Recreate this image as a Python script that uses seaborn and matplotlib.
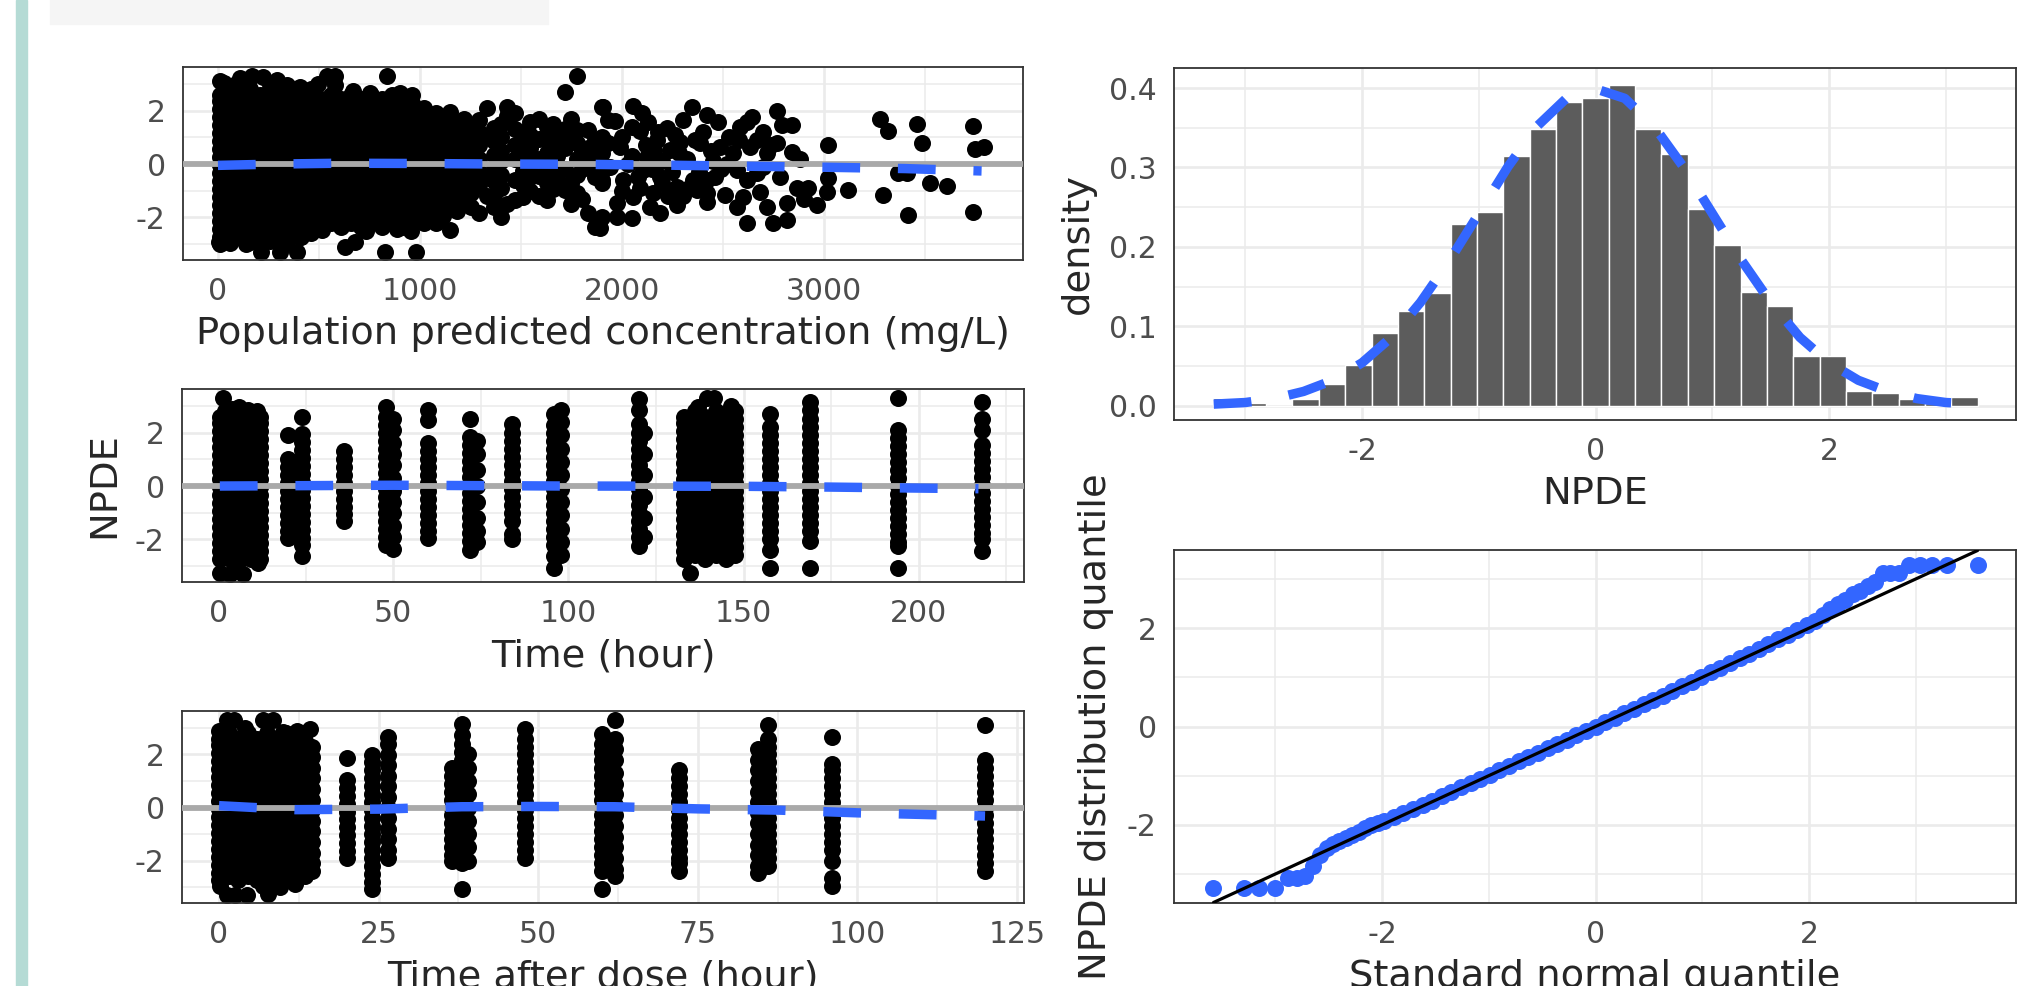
import matplotlib
matplotlib.use("Agg")
import matplotlib.pyplot as plt
from matplotlib.patches import Rectangle
from matplotlib.ticker import FormatStrFormatter
import seaborn as sns
import pandas as pd

# ---------------- data ----------------
# shared NPDE bands used for the solid, over-plotted blocks
band_a = [-2.75, -2.45, -2.15, -1.85, -1.55, -1.25, -0.95, -0.65, -0.35, -0.05,
          0.25, 0.55, 0.85, 1.15, 1.45, 1.75, 2.05, 2.35, 2.6]
band_b = [-2.6, -2.3, -2.0, -1.7, -1.4, -1.1, -0.8, -0.5, -0.2, 0.1,
          0.4, 0.7, 1.0, 1.3, 1.6, 1.9, 2.2, 2.5, 2.8]
band_c = [-2.35, -2.05, -1.75, -1.45, -1.15, -0.85, -0.55, -0.25, 0.05, 0.35,
          0.65, 0.95, 1.25, 1.55, 1.85, 2.15, 2.45]
band_d = [-2.2, -1.9, -1.6, -1.3, -1.0, -0.7, -0.4, -0.1, 0.2, 0.5,
          0.8, 1.1, 1.4, 1.7, 2.0, 2.3, 2.6]

# panel 1: population prediction (mg/L)
pred_dense_x = [10, 60, 110, 160, 210, 260, 310, 360, 410, 460,
                510, 560, 610, 660, 710, 760, 810, 860, 910, 960]
pred_dense_band = ["a", "b", "a", "b", "a", "b", "a", "b", "a", "b",
                   "c", "d", "c", "d", "c", "d", "c", "d", "c", "d"]
pred_col_x = [1020, 1050, 1080, 1115, 1148, 1185, 1220, 1255, 1290, 1330, 1365, 1400,
              1430, 1470, 1510, 1545, 1590, 1627, 1660, 1680, 1718, 1750, 1776, 1800,
              1830, 1866, 1900, 1933]
pred_col_npde = [
    [2.1, 1.7, 1.3, 0.9, 0.5, 0.1, -0.3, -0.7, -1.1, -1.5, -1.9, -2.2],
    [1.8, 1.4, 1.0, 0.6, 0.2, -0.2, -0.6, -1.0, -1.4, -1.85],
    [1.9, 1.5, 1.1, 0.7, 0.3, -0.1, -0.5, -0.9, -1.3, -1.7, -2.22],
    [1.65, 1.25, 0.85, 0.45, 0.05, -0.35, -0.75, -1.15, -1.55, -1.95],
    [1.96, 1.4, 1.0, 0.6, 0.2, -0.2, -0.6, -1.2, -1.6, -2.48],
    [1.5, 1.1, 0.7, 0.3, -0.1, -0.5, -0.9, -1.3, -1.75],
    [1.7, 1.3, 0.8, 0.4, 0.0, -0.4, -0.9, -1.4],
    [1.45, 1.0, 0.55, 0.15, -0.25, -0.65, -1.1, -1.6],
    [1.65, 1.2, 0.7, 0.2, -0.3, -0.8, -1.85],
    [2.09, 1.0, -0.5, -1.2],
    [1.35, 0.85, 0.35, -0.15, -0.65, -1.15, -1.6],
    [1.5, 1.0, 0.5, 0.1, -0.4, -0.9, -1.98],
    [2.15, 1.8, -1.5],
    [1.9, 1.3, 0.7, 0.2, -0.6, -1.35],
    [1.2, 0.75, 0.3, -0.25, -0.8, -1.25],
    [1.59, 1.1, 0.6, 0.0, -0.5, -1.0],
    [1.7, 0.95, 0.2, -0.45, -1.2],
    [1.4, 0.9, 0.4, -0.2, -0.7, -1.35],
    [1.5, 0.6, -0.15, -0.95],
    [1.0, 0.3, -0.6],
    [2.71, 1.3, 0.6, -0.2, -0.98],
    [1.7, 1.0, -0.7, -1.5],
    [3.29, 1.28, 0.8, 0.2, -0.4, -1.1],
    [0.5, -0.2, -1.3],
    [1.28, 0.6, 0.0, -1.85],
    [0.9, 0.3, -0.5, -2.35],
    [2.15, 1.0, 0.4, -0.2, -0.7, -1.98],
    [1.65, 0.8, -0.1],
]
pred_pt_x = [10, 30, 90, 108, 150, 167, 225, 260, 290, 340, 405, 496, 540, 580, 580,
             670, 752, 835, 900,
             5, 10, 60, 140, 157, 215, 257, 306, 340, 389, 405, 515, 629, 676, 735,
             829, 884, 957, 980,
             1908, 2056, 2345, 2766, 1965, 2130, 2221, 2304, 2419, 2477, 2642, 2790,
             2840, 2048, 2089, 2584, 2617, 2766, 2840, 1916, 1990, 2171, 2287, 2386,
             2485, 2666, 2716, 2122, 2238, 2551, 2634, 1941, 2106, 2188, 2460, 2568,
             2667, 2782, 1899, 2007, 2089, 2155, 2271, 2370, 2419, 2510, 2601, 2683,
             2716, 2815, 2865, 2922, 2963, 1974, 2056, 2139, 2271, 2419, 2568, 2617,
             2749, 2815, 1974, 2048, 2188, 1891, 1891,
             2150, 2200, 2250, 2320, 2350, 2200, 2300, 2120, 2260, 2400, 2380, 2050,
             2000, 2000, 2520, 2700, 2450,
             2030, 2080, 2100, 2160, 2180, 2230, 2280, 2330, 2360, 2420, 2440, 2490,
             2530, 2580, 2620, 2700, 2740, 2880, 2900,
             3021, 3021, 3013, 3120, 3277, 3318, 3368, 3409, 3293, 3417, 3462, 3487,
             3525, 3607, 3739, 3747, 3790, 3739]
pred_pt_npde = [3.1, 3.05, 3.0, 3.21, 3.12, 3.29, 3.27, 3.02, 3.15, 2.95, 2.9, 3.02, 3.29,
                3.29, 2.96, 2.75, 2.65, 3.29, 2.65,
                -2.91, -3.0, -2.95, -3.0, -2.91, -3.29, -2.9, -3.29, -2.95, -3.29, -2.75,
                -2.48, -3.1, -2.91, -2.5, -3.29, -2.45, -2.5, -3.29,
                2.15, 2.17, 2.15, 2.0, 1.62, 1.59, 1.34, 1.65, 1.84, 1.59, 1.75, 1.46,
                1.46, 1.4, 1.25, 1.4, 1.59, 0.78, 0.46, 0.84, 0.65, 0.9, 0.84, 0.78,
                0.65, 0.9, 0.4, 0.28, 0.53, 0.4, 0.65, -0.1, -0.23, -0.48, -0.48, -0.23,
                -0.35, -0.48, -0.6, -0.6, -0.91, -1.1, -0.85, -0.98, -1.1, -1.16, -1.22,
                -1.04, -1.6, -1.48, -0.91, -0.91, -1.54, -1.48, -1.22, -1.6, -1.54,
                -1.41, -1.6, -2.22, -2.22, -2.1, -1.98, -2.04, -1.85, -2.1, -2.41,
                -0.2, 0.1, -0.3, 0.2, -0.6, -0.7, -1.2, 0.7, 1.1, 1.2, -0.3, 0.3,
                1.0, -1.0, 0.0, 1.2, 0.1,
                0.0, -0.5, 1.9, 0.5, 1.2, -1.2, 0.4, -0.9, 0.9, -0.6, 0.5, -0.2,
                1.0, 0.9, -0.6, -0.1, 0.7, 0.2, -1.3,
                0.71, -0.54, -1.04, -0.98, 1.68, 1.25, -0.33, -0.35, -1.16, -1.91, 1.49,
                0.78, -0.73, -0.81, 1.43, 0.55, 0.63, -1.79]
pred_smooth_x = [0, 300, 600, 1000, 1400, 1800, 2200, 2600, 3000, 3400, 3780]
pred_smooth_npde = [-0.05, 0.0, 0.03, 0.02, 0.0, -0.01, -0.04, -0.08, -0.12, -0.17, -0.26]

# panel 2: time (hour)
time_dense_x = [0.5, 2, 3.5, 5, 6.5, 8, 9.5, 11, 12, 133, 136, 139, 142, 145, 147.5]
time_dense_band = ["a", "b", "a", "b", "a", "b", "a", "b", "a", "a", "b", "a", "b", "a", "b"]
time_col_x = [20, 24, 36, 48, 50, 60, 72, 74, 84, 96, 98, 120, 121.5, 157.5, 169, 194, 218]
time_col_npde = [
    [1.9, 1.0, 0.7, 0.4, 0.1, -0.2, -0.5, -0.8, -1.1, -1.4, -1.7, -1.95],
    [2.59, 1.95, 1.65, 1.35, 1.05, 0.75, 0.45, 0.15, -0.15, -0.45, -0.75, -1.05,
     -1.35, -1.65, -1.95, -2.2, -2.64],
    [1.3, 1.0, 0.7, 0.4, 0.1, -0.2, -0.5, -0.8, -1.05, -1.3],
    [2.95, 2.6, 2.3, 2.0, 1.7, 1.4, 1.1, 0.8, 0.5, 0.2, -0.1, -0.4, -0.7, -1.0,
     -1.3, -1.6, -1.9, -2.2],
    [2.5, 2.1, 1.6, 1.2, 0.8, 0.3, -0.2, -0.6, -1.0, -1.5, -1.9, -2.35],
    [2.84, 2.46, 1.6, 1.3, 1.0, 0.7, 0.4, 0.1, -0.2, -0.5, -0.8, -1.1, -1.4, -1.7, -1.95],
    [2.53, 1.84, 1.55, 1.25, 0.95, 0.65, 0.35, 0.05, -0.25, -0.55, -0.85, -1.15,
     -1.45, -1.75, -2.05, -2.39],
    [1.7, 1.2, 0.6, 0.0, -0.6, -1.2, -1.7, -2.1],
    [2.34, 2.0, 1.7, 1.4, 1.1, 0.8, 0.5, 0.2, -0.1, -0.4, -0.7, -1.0, -1.3, -1.8, -2.0],
    [2.71, 2.3, 2.0, 1.7, 1.4, 1.1, 0.8, 0.5, 0.2, -0.1, -0.4, -0.7, -1.0, -1.3,
     -1.6, -1.9, -2.2, -2.64, -3.07],
    [2.84, 2.4, 1.9, 1.4, 0.9, 0.4, -0.1, -0.6, -1.1, -1.6, -2.1, -2.57],
    [3.27, 2.84, 2.34, 2.0, 1.7, 1.4, 1.1, 0.8, 0.5, 0.2, -0.1, -0.4, -0.7, -1.0,
     -1.3, -1.6, -1.9, -2.26],
    [2.0, 1.2, 0.4, -0.4, -1.2, -1.9],
    [2.71, 2.2, 1.9, 1.6, 1.3, 1.0, 0.7, 0.4, 0.1, -0.2, -0.5, -0.8, -1.1, -1.4,
     -1.7, -2.0, -2.4, -3.07],
    [3.15, 2.84, 2.5, 2.2, 1.9, 1.6, 1.3, 1.0, 0.7, 0.4, 0.1, -0.2, -0.5, -0.8,
     -1.1, -1.4, -1.7, -2.08, -3.07],
    [3.29, 2.09, 1.8, 1.5, 1.2, 0.9, 0.6, 0.3, 0.0, -0.3, -0.6, -0.9, -1.2, -1.5,
     -1.8, -2.1, -2.26, -3.07],
    [3.15, 2.53, 2.09, 1.53, 1.25, 0.95, 0.65, 0.35, 0.05, -0.25, -0.55, -0.85,
     -1.15, -1.45, -1.75, -2.0, -2.45],
]
time_pt_x = [1.5, 0.6, 3.4, 7.2, 5.0, 11.5, 6.0, 8.5, 4.0,
             139.5, 141.5, 137, 146.5, 134.6]
time_pt_npde = [3.29, -3.26, -3.29, -3.29, -3.1, -2.88, 2.95, 2.85, 2.9,
                3.29, 3.29, 2.95, 3.0, -3.26]
time_smooth_x = [0.5, 50, 100, 150, 175, 195, 217]
time_smooth_npde = [0.0, 0.03, 0.0, -0.01, -0.04, -0.07, -0.1]

# panel 3: time after dose (hour)
tad_dense_x = [0, 1.5, 3, 4.5, 6, 7.5, 9, 10.5, 12, 13.5]
tad_dense_band = ["a", "b", "a", "b", "a", "b", "a", "b", "a", "b"]
tad_col_x = [14.6, 20, 24, 26.5, 36.5, 38, 39, 48, 60, 62, 72, 84.5, 86, 96, 120]
tad_col_npde = [
    [2.3, 1.9, 1.5, 1.1, 0.7, 0.3, -0.1, -0.5, -0.9, -1.3, -1.7, -2.1, -2.4],
    [1.88, 1.04, 0.75, 0.45, 0.15, -0.15, -0.45, -0.75, -1.05, -1.35, -1.65, -1.9],
    [1.98, 1.7, 1.4, 1.1, 0.8, 0.5, 0.2, -0.1, -0.4, -0.7, -1.0, -1.3, -1.6, -1.9,
     -2.2, -2.5, -2.8, -3.09],
    [2.66, 2.41, 1.98, 1.6, 1.2, 0.8, 0.4, 0.0, -0.4, -0.8, -1.2, -1.6, -1.9],
    [1.5, 1.2, 0.9, 0.6, 0.3, 0.0, -0.3, -0.6, -0.9, -1.2, -1.5, -1.8, -2.0],
    [3.16, 2.73, 2.4, 2.1, 1.8, 1.5, 1.2, 0.9, 0.6, 0.3, 0.0, -0.3, -0.6, -0.9,
     -1.2, -1.5, -1.8, -2.1, -3.09],
    [2.0, 1.5, 1.0, 0.5, 0.0, -0.5, -1.0, -1.5, -2.0],
    [2.98, 2.6, 2.3, 2.0, 1.7, 1.4, 1.1, 0.8, 0.5, 0.2, -0.1, -0.4, -0.7, -1.0,
     -1.3, -1.6, -1.9],
    [2.79, 2.4, 2.1, 1.8, 1.5, 1.2, 0.9, 0.6, 0.3, 0.0, -0.3, -0.6, -0.9, -1.2,
     -1.5, -1.8, -2.1, -2.4, -3.09],
    [3.29, 2.6, 2.2, 1.8, 1.3, 0.9, 0.5, 0.1, -0.3, -0.7, -1.1, -1.5, -1.9, -2.3, -2.6],
    [1.41, 1.1, 0.8, 0.5, 0.2, -0.1, -0.4, -0.7, -1.0, -1.3, -1.6, -1.9, -2.1, -2.4],
    [2.2, 1.8, 1.4, 1.0, 0.6, 0.2, -0.2, -0.6, -1.0, -1.4, -1.8, -2.2, -2.46],
    [3.1, 2.6, 2.3, 2.0, 1.7, 1.4, 1.1, 0.8, 0.5, 0.2, -0.1, -0.4, -0.7, -1.0,
     -1.3, -1.6, -1.9, -2.2],
    [2.66, 1.66, 1.4, 1.1, 0.8, 0.5, 0.2, -0.1, -0.4, -0.7, -1.0, -1.3, -1.6,
     -2.0, -2.65, -2.96],
    [3.1, 1.79, 1.5, 1.2, 0.9, 0.6, 0.3, 0.0, -0.3, -0.6, -0.9, -1.2, -1.5, -1.8,
     -2.1, -2.4],
]
tad_pt_x = [1.2, 2.3, 6.9, 8.5, 14.3, 12.2, 0, 4, 10,
            1.2, 2.5, 4.4, 7.7, 11.9, 0.2, 6.9, 9.5]
tad_pt_npde = [3.29, 3.29, 3.29, 3.29, 2.98, 2.9, 2.9, 3.0, 2.85,
               -3.29, -3.29, -3.29, -3.27, -2.9, -2.95, -2.95, -3.0]
tad_smooth_x = [0, 12, 25, 38, 50, 62, 75, 88, 100, 110, 120]
tad_smooth_npde = [0.07, -0.08, -0.06, 0.03, 0.04, 0.03, -0.05, -0.1, -0.2, -0.26, -0.32]

# histogram of NPDE (29 bins)
hist_centers = [-3.16, -2.935, -2.709, -2.483, -2.257, -2.031, -1.806, -1.58, -1.354,
                -1.128, -0.903, -0.677, -0.451, -0.226, 0.0, 0.226, 0.451, 0.677,
                0.903, 1.128, 1.354, 1.58, 1.806, 2.031, 2.257, 2.483, 2.709, 2.935, 3.16]
hist_density = [0.010, 0.003, 0.0, 0.009, 0.027, 0.051, 0.092, 0.119, 0.142,
                0.229, 0.244, 0.315, 0.348, 0.383, 0.387, 0.404, 0.348, 0.317,
                0.248, 0.202, 0.143, 0.125, 0.063, 0.063, 0.019, 0.016, 0.009, 0.003, 0.011]
dens_x = [-3.27, -3.0, -2.75, -2.5, -2.25, -2.0, -1.75, -1.5, -1.25, -1.0, -0.75, -0.5,
          -0.25, 0.0, 0.25, 0.5, 0.75, 1.0, 1.25, 1.5, 1.75, 2.0, 2.25, 2.5, 2.75, 3.0, 3.28]
dens_y = [0.002, 0.004, 0.009, 0.018, 0.032, 0.054, 0.086, 0.13, 0.183, 0.242, 0.301,
          0.352, 0.387, 0.399, 0.387, 0.352, 0.301, 0.242, 0.183, 0.13, 0.086, 0.054,
          0.032, 0.018, 0.009, 0.004, 0.002]

# Q-Q plot
qq_x = [-3.58, -3.29, -3.15, -3.0, -2.88, -2.8, -2.72, -2.65, -2.58, -2.52, -2.46, -2.4,
        -2.34, -2.28, -2.22, -2.16, -2.1, -2.04,
        -1.98, -1.89, -1.8, -1.71, -1.62, -1.53, -1.44, -1.35, -1.26, -1.17, -1.08,
        -0.99, -0.9, -0.81, -0.72, -0.63, -0.54, -0.45, -0.36, -0.27, -0.18, -0.09,
        0.0, 0.09, 0.18, 0.27, 0.36, 0.45, 0.54, 0.63, 0.72, 0.81, 0.9, 0.99, 1.08,
        1.17, 1.26, 1.35, 1.44, 1.53, 1.62, 1.71, 1.8, 1.89, 1.98,
        2.06, 2.13, 2.2, 2.27, 2.34, 2.41, 2.48, 2.55, 2.62, 2.69, 2.76, 2.84, 2.94,
        3.04, 3.15, 3.29, 3.58]
qq_y = [-3.29, -3.29, -3.29, -3.29, -3.08, -3.08, -3.05, -2.84, -2.62, -2.47, -2.4, -2.33,
        -2.27, -2.2, -2.14, -2.07, -2.01, -1.96,
        -1.92, -1.84, -1.76, -1.68, -1.6, -1.51, -1.42, -1.33, -1.24, -1.15, -1.06,
        -0.98, -0.89, -0.8, -0.71, -0.62, -0.53, -0.44, -0.35, -0.27, -0.18, -0.09,
        0.0, 0.09, 0.18, 0.27, 0.36, 0.45, 0.54, 0.63, 0.72, 0.82, 0.91, 1.01, 1.1,
        1.2, 1.29, 1.39, 1.48, 1.58, 1.67, 1.77, 1.86, 1.96, 2.06,
        2.15, 2.26, 2.4, 2.5, 2.58, 2.7, 2.76, 2.86, 2.93, 3.12, 3.12, 3.12, 3.29,
        3.29, 3.29, 3.29, 3.29]
qq_line_x = [-3.58, 3.58]
qq_line_y = [-3.58, 3.58]

# ---------------- helpers ----------------
bands = {"a": band_a, "b": band_b, "c": band_c, "d": band_d}


def scatter_frame(dense_x, dense_band, col_x, col_npde, pt_x, pt_npde):
    rows = [(x, v) for x, b in zip(dense_x, dense_band) for v in bands[b]]
    rows += [(x, v) for x, vs in zip(col_x, col_npde) for v in vs]
    rows += list(zip(pt_x, pt_npde))
    return pd.DataFrame(rows, columns=["x", "npde"])


W, H = 2033, 986


def rect(l, t, r, b):
    return [l / W, 1 - b / H, (r - l) / W, (b - t) / H]


def style(ax):
    ax.set_facecolor("white")
    ax.set_axisbelow(True)
    ax.grid(which="major", color="#ebebeb", lw=1.9)
    ax.grid(which="minor", color="#ebebeb", lw=1.1)
    for s in ax.spines.values():
        s.set_visible(True)
        s.set_color("#333333")
        s.set_linewidth(1.3)
    ax.tick_params(which="major", length=6, width=1.3, color="#333333",
                   labelsize=21.5, labelcolor="#4d4d4d", pad=6.5)
    ax.tick_params(which="minor", length=0)


def dashed(ax, x, y, z=4):
    sns.lineplot(x=x, y=y, color="#3366ff", lw=6.8, ax=ax, zorder=z)
    ax.lines[-1].set_dashes([4, 4])


TITLE = 27.7
DOT = 150

sns.set_style("white")
plt.rcParams["font.family"] = ["DejaVu Sans"]
plt.rcParams["axes.unicode_minus"] = False

fig = plt.figure(figsize=(W / 100, H / 100), dpi=100)
fig.patches.append(Rectangle((16 / W, 0), 11 / W, 1, transform=fig.transFigure,
                             color="#b5dbd5", zorder=0))
fig.patches.append(Rectangle((50 / W, 1 - 24 / H), 498 / W, 24 / H,
                             transform=fig.transFigure, color="#f5f5f5", zorder=0))

left_panels = [
    (rect(183, 67, 1023, 260), scatter_frame(pred_dense_x, pred_dense_band, pred_col_x,
                                              pred_col_npde, pred_pt_x, pred_pt_npde),
     pred_smooth_x, pred_smooth_npde, (-173, 3985), [0, 1000, 2000, 3000],
     [500, 1500, 2500, 3500], "Population predicted concentration (mg/L)", ""),
    (rect(182, 389, 1024, 582), scatter_frame(time_dense_x, time_dense_band, time_col_x,
                                               time_col_npde, time_pt_x, time_pt_npde),
     time_smooth_x, time_smooth_npde, (-10.3, 230), [0, 50, 100, 150, 200],
     [25, 75, 125, 175, 225], "Time (hour)", "NPDE"),
    (rect(182, 711, 1024, 903), scatter_frame(tad_dense_x, tad_dense_band, tad_col_x,
                                               tad_col_npde, tad_pt_x, tad_pt_npde),
     tad_smooth_x, tad_smooth_npde, (-5.8, 126.1), [0, 25, 50, 75, 100, 125],
     [12.5, 37.5, 62.5, 87.5, 112.5], "Time after dose (hour)", ""),
]

for pos, df, sx, sy, xlim, xmaj, xmin, xlabel, ylabel in left_panels:
    ax = fig.add_axes(pos)
    sns.scatterplot(data=df, x="x", y="npde", color="black", s=DOT, linewidth=0,
                    ax=ax, zorder=2, legend=False)
    ax.axhline(0, color="#a9a9a9", lw=4.2, zorder=3)
    dashed(ax, sx, sy)
    ax.set_xlim(*xlim)
    ax.set_ylim(-3.6, 3.64)
    ax.set_xticks(xmaj)
    ax.set_xticks(xmin, minor=True)
    ax.set_yticks([-2, 0, 2])
    ax.set_yticks([-3, -1, 1, 3], minor=True)
    style(ax)
    ax.set_xlabel(xlabel, fontsize=TITLE, labelpad=7)
    ax.set_ylabel(ylabel, fontsize=TITLE, labelpad=9)

# histogram
axh = fig.add_axes(rect(1174, 68, 2016, 420))
sns.histplot(x=hist_centers, weights=hist_density, bins=29, binrange=(-3.273, 3.273),
             color="#5c5c5c", edgecolor="white", linewidth=1.0, alpha=1, ax=axh)
dashed(axh, dens_x, dens_y)
axh.set_xlim(-3.61, 3.6)
axh.set_ylim(-0.018, 0.4252)
axh.set_xticks([-2, 0, 2])
axh.set_xticks([-3, -1, 1, 3], minor=True)
axh.set_yticks([0.0, 0.1, 0.2, 0.3, 0.4])
axh.set_yticks([0.05, 0.15, 0.25, 0.35], minor=True)
axh.yaxis.set_major_formatter(FormatStrFormatter("%.1f"))
style(axh)
axh.set_xlabel("NPDE", fontsize=TITLE, labelpad=7)
axh.set_ylabel("density", fontsize=TITLE, labelpad=9)

# Q-Q plot
axq = fig.add_axes(rect(1174, 550, 2016, 903))
sns.scatterplot(x=qq_x, y=qq_y, color="#3366ff", s=DOT, linewidth=0, ax=axq, zorder=2)
sns.lineplot(x=qq_line_x, y=qq_line_y, color="black", lw=2.3, ax=axq, zorder=3)
axq.set_xlim(-3.95, 3.94)
axq.set_ylim(-3.59, 3.59)
axq.set_xticks([-2, 0, 2])
axq.set_xticks([-3, -1, 1, 3], minor=True)
axq.set_yticks([-2, 0, 2])
axq.set_yticks([-3, -1, 1, 3], minor=True)
style(axq)
axq.set_xlabel("Standard normal quantile", fontsize=TITLE, labelpad=7)
axq.set_ylabel("NPDE distribution quantile", fontsize=TITLE, labelpad=9)

fig.savefig("out.png", dpi=100)
